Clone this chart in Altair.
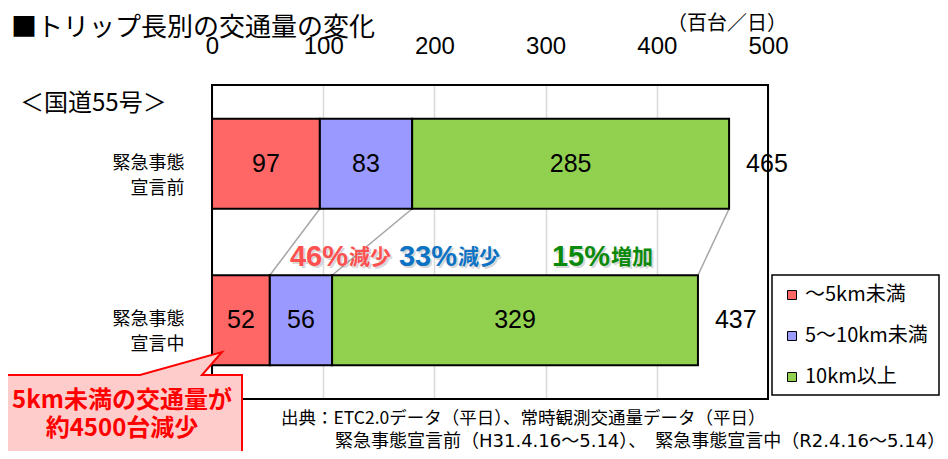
import itertools
import altair as alt
import pandas as pd

# ---- data ----
periods = ["緊急事態宣言前", "緊急事態宣言中"]
classes = ["～5km未満", "5～10km未満", "10km以上"]
before = [97, 83, 285]
during = [52, 56, 329]
colors = ["#FF6666", "#9999FF", "#92D050"]
x_ticks = [0, 100, 200, 300, 400, 500]
pct_colors = ["#FF5050", "#0B72C4", "#0A8A0A"]

rows = []
for p, vals in zip(periods, [before, during]):
    for i, (c, v) in enumerate(zip(classes, vals)):
        rows.append({"period": p, "cls": c, "value": v, "ord": i})
df = pd.DataFrame(rows)

conn = pd.DataFrame({
    "xb": list(itertools.accumulate(before)),
    "xd": list(itertools.accumulate(during)),
    "pb": periods[0],
    "pd": periods[1],
})

changes = [round((d - b) / b * 100) for b, d in zip(before, during)]
pct_text = [f"{abs(c)}%" for c in changes]
pct_word = ["減少" if c < 0 else "増加" for c in changes]

dummy = pd.DataFrame({"a": [0]})

W, H = 556, 314
JP = "Noto Sans CJK JP"
NUM = "Liberation Sans"

xscale = alt.Scale(domain=[0, 500], nice=False, zero=True)
yscale = alt.Scale(domain=periods, paddingInner=0.425, paddingOuter=0.216)

xaxis = alt.Axis(orient="top", values=x_ticks, labelFontSize=24, labelFont=NUM,
                 labelColor="black", ticks=False, domain=False, grid=True,
                 gridColor="#D9D9D9", gridWidth=1.5, title=None, labelPadding=27,
                 labelFlush=False)
yaxis = alt.Axis(orient="left", labelExpr="[substring(datum.label,0,4), substring(datum.label,4)]",
                 labelFontSize=18, labelFont=JP, labelColor="black", labelPadding=28,
                 labelLineHeight=25, ticks=False, domain=False, title=None)

Y = alt.Y("period:N", scale=yscale, sort=periods, axis=yaxis)

frame = alt.Chart(dummy).mark_rect(fillOpacity=0, stroke="black", strokeWidth=2).encode(
    x=alt.value(0), x2=alt.value(W), y=alt.value(0), y2=alt.value(H))

connectors = alt.Chart(conn).mark_rule(color="#A6A6A6", strokeWidth=1.5).encode(
    x=alt.X("xb:Q", scale=xscale, axis=xaxis),
    x2="xd:Q",
    y=alt.Y("pb:N", scale=yscale, sort=periods, axis=yaxis, bandPosition=1),
    y2=alt.Y2("pd:N", bandPosition=0),
)

bars = alt.Chart(df).mark_bar(stroke="black", strokeWidth=2).encode(
    x=alt.X("value:Q", scale=xscale, axis=xaxis, stack="zero"),
    y=Y,
    color=alt.Color("cls:N", scale=alt.Scale(domain=classes, range=colors),
                    legend=alt.Legend(orient="none", legendX=560, legendY=190, title=None,
                                      symbolType="square", symbolSize=81,
                                      symbolStrokeColor="black", symbolStrokeWidth=1,
                                      labelFontSize=20, labelFont=JP, labelColor="black",
                                      rowPadding=21, padding=10, labelOffset=3)),
    order=alt.Order("ord:Q", sort="ascending"),
)

seg_labels = alt.Chart(df).transform_stack(
    stack="value", groupby=["period"], as_=["x0", "x1"],
    sort=[alt.SortField("ord", order="ascending")]
).transform_calculate(mid="(datum.x0 + datum.x1) / 2").mark_text(
    fontSize=25, font=NUM, color="black"
).encode(x=alt.X("mid:Q", scale=xscale), y=Y, text="value:Q")

totals = alt.Chart(df).transform_aggregate(
    total="sum(value)", groupby=["period"]
).mark_text(fontSize=25, font=NUM, color="black", align="left", dx=17).encode(
    x=alt.X("total:Q", scale=xscale), y=Y, text="total:Q")

legend_box = alt.Chart(dummy).mark_rect(fillOpacity=0, stroke="black", strokeWidth=1.5).encode(
    x=alt.value(560), x2=alt.value(727), y=alt.value(190), y2=alt.value(310))

layers = [frame, connectors, bars, seg_labels, totals, legend_box]

# percentage change annotations
pivots = [136, 245, 398]
for piv, t, w, col in zip(pivots, pct_text, pct_word, pct_colors):
    for dx, dy, c, op in [(2, 2, "#808080", 0.3), (0, 0, col, 1)]:
        layers.append(alt.Chart(dummy).mark_text(
            text=t, fontSize=29, fontWeight="bold", font=NUM, color=c, opacity=op,
            align="right", baseline="alphabetic").encode(
            x=alt.value(piv + dx), y=alt.value(181 + dy)))
        layers.append(alt.Chart(dummy).mark_text(
            text=w, fontSize=21, fontWeight="bold", font=JP, color=c, opacity=op,
            align="left", baseline="alphabetic").encode(
            x=alt.value(piv + 1 + dx), y=alt.value(179 + dy)))

# callout
callout_path = "M-215,290 L-72,290 L10,267 L-10,290 L30,290 L30,385 L-215,385 Z"
layers.append(alt.Chart(dummy).mark_point(
    shape=callout_path, size=4, filled=True, fill="#FFCCCC", stroke="#FF0000",
    strokeWidth=2, opacity=1).encode(x=alt.value(0), y=alt.value(0)))
for txt, yy in [("5km未満の交通量が", 316), ("約4500台減少", 344)]:
    layers.append(alt.Chart(dummy).mark_text(
        text=txt, fontSize=24, fontWeight="bold", font=JP, color="#FF0000",
        align="center", baseline="middle").encode(x=alt.value(-90), y=alt.value(yy)))

# free texts
free_texts = [
    ("■トリップ長別の交通量の変化", -201, -57, 26, JP),
    ("（百台／日）", 455, -61, 20, JP),
    ("＜国道55号＞", -192, 19, 24, JP),
    ("出典：ETC2.0データ（平日）、常時観測交通量データ（平日）", 69, 334, 17.5, JP),
    ("緊急事態宣言前（H31.4.16～5.14）、　緊急事態宣言中（R2.4.16～5.14）", 123, 357, 18,
     "DejaVu Sans, Noto Sans CJK JP"),
]
for txt, xx, yy, fs, fnt in free_texts:
    layers.append(alt.Chart(dummy).mark_text(
        text=txt, fontSize=fs, font=fnt, color="black", align="left", baseline="middle").encode(
        x=alt.value(xx), y=alt.value(yy)))

chart = alt.layer(*layers).properties(
    width=W, height=H,
    autosize=alt.AutoSizeParams(type="none"),
    padding={"left": 204, "top": 77, "right": 172, "bottom": 52},
    background="white",
).configure_view(strokeWidth=0)

chart.save("out.html", embed_options={"renderer": "svg", "actions": False})
